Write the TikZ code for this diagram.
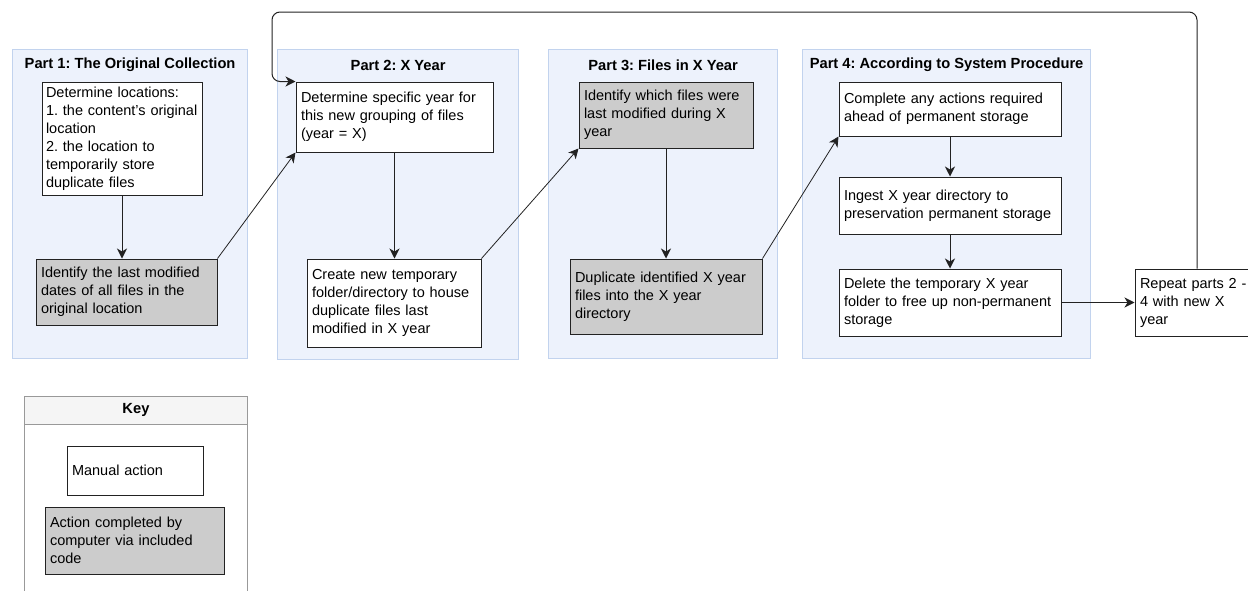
\documentclass[tikz,border=0pt]{standalone}
\usepackage{fontspec}
\setmainfont{Liberation Sans}
\usetikzlibrary{arrows.meta}
\frenchspacing

\definecolor{partfill}{HTML}{EDF2FC}
\definecolor{partline}{HTML}{C2D3EE}
\definecolor{codegray}{HTML}{CCCCCC}
\definecolor{edgeline}{HTML}{222222}
\definecolor{keyhead}{HTML}{F5F5F5}
\definecolor{keyline}{HTML}{999999}

\tikzset{
  part/.style={draw=partline, line width=1.2pt, fill=partfill, anchor=north west, inner sep=0pt},
  parttitle/.style={font=\fontsize{14.7}{18}\selectfont\bfseries, inner sep=0pt},
  manual/.style={draw=edgeline, line width=1pt, fill=white, inner xsep=5pt, inner ysep=2pt,
    align=left, font=\fontsize{14.5}{18}\selectfont,
    execute at begin node={\hyphenpenalty=10000 \exhyphenpenalty=10000}},
  computer/.style={manual, fill=codegray},
  flow/.style={draw=edgeline, line width=1pt, -{Stealth[length=10pt,width=10pt,inset=3pt]}},
  plain/.style={draw=edgeline, line width=0.8pt, -{Stealth[length=10pt,width=10pt,inset=3pt]}}
}

\begin{document}
\begin{tikzpicture}[x=1pt,y=-1pt]
\useasboundingbox (0,0) rectangle (1248,590);

% the four parts
\node[part, minimum width=235pt, minimum height=309pt] (p1) at (12,49) {};
\node[part, minimum width=241pt, minimum height=310pt] (p2) at (277,49) {};
\node[part, minimum width=229pt, minimum height=309pt] (p3) at (548,49) {};
\node[part, minimum width=288pt, minimum height=309pt] (p4) at (802,49) {};
\node[parttitle] (t1) at ([yshift=-16pt]p1.north) {Part 1: The Original Collection};
\node[parttitle] (t2) at ([yshift=-16pt]p2.north) {Part 2: X Year};
\node[parttitle] (t3) at ([yshift=-16pt]p3.north) {Part 3: Files in X Year};
\node[parttitle] (t4) at ([yshift=-16pt]p4.north) {Part 4: According to System Procedure};

% steps
\node[manual, inner xsep=4pt, text width=152pt, minimum height=113pt] (b1) at (122,138.5)
  {Determine locations:\\1. the content's original\\location\\2. the location to\\temporarily store\\duplicate files};
\node[computer, text width=171pt, minimum height=66pt] (b2) at (126.5,292)
  {Identify the last modified\\dates of all files in the\\original location};
\node[manual, text width=187pt, minimum height=70pt] (b3) at (394.5,117)
  {Determine specific year for\\this new grouping of files\\(year = X)};
\node[manual, text width=164pt, minimum height=88pt] (b4) at (394,303)
  {Create new temporary\\folder/directory to house\\duplicate files last\\modified in X year};
\node[computer, text width=164pt, minimum height=66pt] (b5) at (666,115)
  {Identify which files were\\last modified during X\\year};
\node[computer, text width=182pt, minimum height=75pt] (b6) at (666,296.5)
  {Duplicate identified X year\\files into the X year\\directory};
\node[manual, text width=212pt, minimum height=54pt] (b7) at (950,109)
  {Complete any actions required\\ahead of permanent storage};
\node[manual, text width=212pt, minimum height=57pt] (b8) at (950,205.5)
  {Ingest X year directory to\\preservation permanent storage};
\node[manual, text width=212pt, minimum height=67pt] (b9) at (950,302.5)
  {Delete the temporary X year\\folder to free up non-permanent\\storage};
\node[manual, text width=114pt, minimum height=67pt] (rep) at (1197,302.5)
  {Repeat parts 2 -\\4 with new X\\year};

% connectors
\draw[flow] (b1.south) -- (b1.south |- b2.north);
\draw[plain] (b2.north east) -- (b3.south west);
\draw[flow] (b3.south) -- (b3.south |- b4.north);
\draw[plain] (b4.north east) -- (b5.south west);
\draw[flow] (b5.south) -- (b6.north);
\draw[plain] (b6.north east) -- (b7.south west);
\draw[flow] (b7) -- (b8);
\draw[flow] (b8) -- (b9);
\draw[flow] (b9) -- (rep);
\coordinate (loop) at (272,12);
\draw[flow, rounded corners=8pt] (rep.north) |- (loop) |- (b3.north west);

% key
\node[draw=keyline, line width=0.9pt, fill=white, anchor=north west, minimum width=223pt,
  minimum height=200pt, inner sep=0pt] (keybody) at (24,396) {};
\node[draw=keyline, line width=0.9pt, fill=keyhead, anchor=north west, minimum width=223pt,
  minimum height=28pt, inner sep=0pt, font=\fontsize{14.7}{18}\selectfont\bfseries] (key) at (24,396) {Key};
\node[manual, text width=126pt, minimum height=49pt] (kman) at (135,470.5) {Manual action};
\node[computer, text width=169pt, minimum height=67pt] (kcomp) at (134.5,540.5)
  {Action completed by\\computer via included\\code};
\end{tikzpicture}
\end{document}
